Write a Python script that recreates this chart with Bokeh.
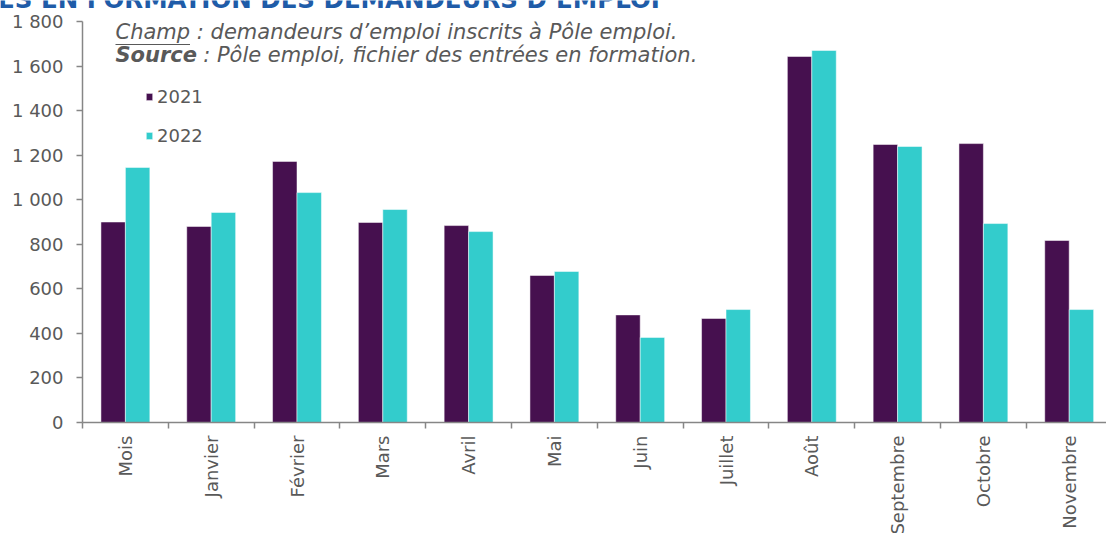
import math
from bokeh.plotting import figure
from bokeh.models import (FixedTicker, CustomJSTickFormatter, Label, Legend, LegendItem,
                          BoxAnnotation, Range1d, ColumnDataSource)
from bokeh.embed import file_html
from bokeh.resources import INLINE

# ---- data ----
months = ["Mois", "Janvier", "Février", "Mars", "Avril", "Mai", "Juin", "Juillet",
          "Août", "Septembre", "Octobre", "Novembre"]
series_names = ["2021", "2022"]
v2021 = [900, 880, 1172, 898, 884, 660, 483, 467, 1643, 1248, 1252, 817]
v2022 = [1145, 943, 1032, 956, 857, 678, 382, 507, 1670, 1239, 893, 507]
y_ticks = [0, 200, 400, 600, 800, 1000, 1200, 1400, 1600, 1800]
y_tick_labels = ["0", "200", "400", "600", "800", "1 000", "1 200", "1 400", "1 600", "1 800"]

title_text = "ENTRÉES EN FORMATION DES DEMANDEURS D’EMPLOI"
note_champ = "Champ : demandeurs d’emploi inscrits à Pôle emploi."
note_source_bold = "Source"
note_source_rest = "\u00a0: Pôle emploi, fichier des entrées en formation."

# ---- style / layout ----
colors = ["#46104F", "#33CCCC"]
FONT = "DejaVu Sans"
GRAY = "#595959"
AXIS = "#868686"
bar_w = 0.285
W, H = 1106, 533
X0_PX, Y0_PX, Y1800_PX = 82, 422, 21      # pixel positions of the axes' origin / top
CAT_PX = 85.8                              # pixel width of one category

n = len(months)
centers = [i + 0.5 for i in range(n)]
bounds = list(range(n + 1))
ymax = y_ticks[-1]
u_per_px = ymax / (Y0_PX - Y1800_PX)

src = ColumnDataSource(dict(
    x1=[c - bar_w / 2 for c in centers],
    x2=[c + bar_w / 2 for c in centers],
    v2021=v2021, v2022=v2022,
))

p = figure(width=W, height=H,
           x_range=Range1d(-X0_PX / CAT_PX, (W - X0_PX) / CAT_PX),
           y_range=Range1d(-(H - Y0_PX) * u_per_px, Y0_PX * u_per_px),
           output_backend="svg", toolbar_location=None,
           min_border_left=0, min_border_right=0, min_border_top=0, min_border_bottom=0)
p.xgrid.visible = False
p.ygrid.visible = False
p.outline_line_color = None
p.background_fill_color = "white"
p.border_fill_color = "white"

r1 = p.vbar(x="x1", top="v2021", width=bar_w, source=src, fill_color=colors[0],
            line_color="white", line_alpha=0.5, line_width=1)
r2 = p.vbar(x="x2", top="v2022", width=bar_w, source=src, fill_color=colors[1],
            line_color="white", line_alpha=0.5, line_width=1)

# x axis, drawn at y = 0
xa = p.xaxis[0]
xa.fixed_location = 0
xa.bounds = (0, n)
xa.ticker = FixedTicker(ticks=centers, minor_ticks=bounds)
xa.formatter = CustomJSTickFormatter(args=dict(mlabels=months),
                                     code="return mlabels[Math.floor(tick)] || '';")
xa.major_label_orientation = math.pi / 2
xa.major_tick_out = 0
xa.major_tick_in = 0
xa.minor_tick_out = 6
xa.minor_tick_in = 0
xa.minor_tick_line_color = AXIS
xa.minor_tick_line_width = 1.5
xa.axis_line_color = AXIS
xa.axis_line_width = 1.5
xa.major_label_standoff = 7
xa.major_label_text_font = FONT
xa.major_label_text_font_size = "18px"
xa.major_label_text_color = GRAY

# y axis, drawn at x = 0
ya = p.yaxis[0]
ya.fixed_location = 0
ya.bounds = (0, ymax)
ya.ticker = FixedTicker(ticks=y_ticks, minor_ticks=[])
ya.formatter = CustomJSTickFormatter(args=dict(yt=y_ticks, yl=y_tick_labels),
                                     code="const i = yt.indexOf(Math.round(tick)); return i >= 0 ? yl[i] : '';")
ya.major_tick_out = 6
ya.major_tick_in = 0
ya.major_tick_line_color = AXIS
ya.major_tick_line_width = 1.5
ya.minor_tick_line_color = None
ya.axis_line_color = AXIS
ya.axis_line_width = 1.5
ya.major_label_standoff = 13
ya.major_label_text_font = FONT
ya.major_label_text_font_size = "18px"
ya.major_label_text_color = GRAY

# legend (bottom-left corner given in screen px from the frame's bottom-left)
legend = Legend(items=[LegendItem(label=series_names[0], renderers=[r1]),
                       LegendItem(label=series_names[1], renderers=[r2])],
                location=(145, H - 148), margin=0, padding=0,
                glyph_width=8, glyph_height=9, label_height=25, spacing=14,
                label_standoff=4, label_text_font=FONT, label_text_font_size="18px",
                label_text_color=GRAY, background_fill_alpha=0, border_line_color=None)
p.add_layout(legend)

# notes (screen units from the canvas bottom-left; y = vertical centre of the text)
NOTE_SIZE = "21px"
p.add_layout(Label(x=115, y=H - 31.3, x_units="screen", y_units="screen", text=note_champ,
                   text_font=FONT, text_font_size=NOTE_SIZE, text_font_style="italic",
                   text_color=GRAY, text_baseline="middle"))
p.add_layout(BoxAnnotation(left=115, right=189.5, bottom=H - 44.6, top=H - 43.4,
                           left_units="screen", right_units="screen",
                           top_units="screen", bottom_units="screen",
                           fill_color=GRAY, fill_alpha=1, line_color=None))
p.add_layout(Label(x=115, y=H - 54.5, x_units="screen", y_units="screen", text=note_source_bold,
                   text_font=FONT, text_font_size=NOTE_SIZE, text_font_style="bold italic",
                   text_color=GRAY, text_baseline="middle"))
p.add_layout(Label(x=196, y=H - 54.5, x_units="screen", y_units="screen", text=note_source_rest,
                   text_font=FONT, text_font_size=NOTE_SIZE, text_font_style="italic",
                   text_color=GRAY, text_baseline="middle"))

# title, cut by the top edge as in the source image
p.add_layout(Label(x=-92, y=H + 0.8, x_units="screen", y_units="screen", text=title_text,
                   text_font=FONT, text_font_size="24.5px", text_font_style="bold",
                   text_color="#1F5CA8", text_baseline="middle"))

open("out.html", "w").write(file_html(p, INLINE))
